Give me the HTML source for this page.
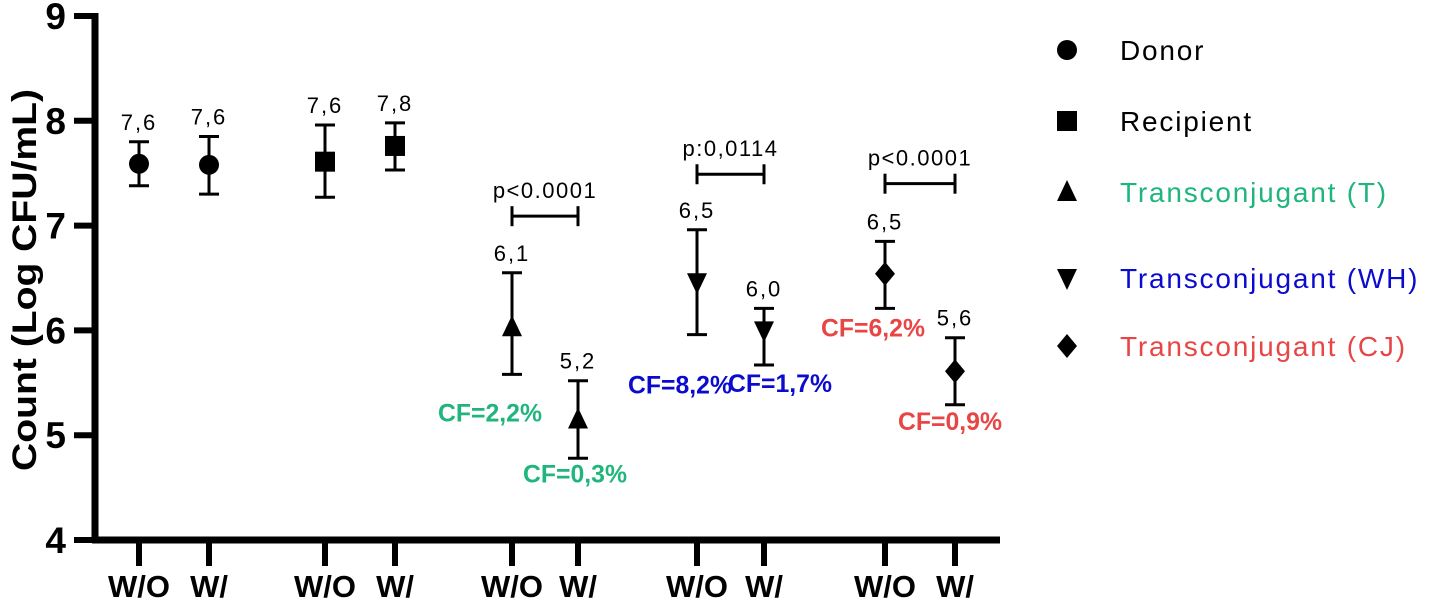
<!DOCTYPE html>
<html><head><meta charset="utf-8"><style>
body{margin:0;background:#fff;}
svg{display:block;font-family:"Liberation Sans",Arial,sans-serif;}
</style></head><body>
<svg id="chart" width="1429" height="604" viewBox="0 0 1429 604">
<g id="axes"></g>
<g id="marks"></g>
<g id="legend"></g>
</svg>
<script>
const yTicks=[4,5,6,7,8,9];
const xLabels=["W/O","W/","W/O","W/","W/O","W/","W/O","W/","W/O","W/"];
const xPos=[139,209,325,395,512,578,697,764,885,955];
const means=[7.59,7.58,7.61,7.76,6.03,5.15,6.46,6.0,6.54,5.61];
const errLo=[7.38,7.30,7.27,7.53,5.58,4.78,5.96,5.67,6.21,5.29];
const errHi=[7.80,7.85,7.96,7.98,6.55,5.52,6.96,6.21,6.85,5.93];
const valueLabels=["7,6","7,6","7,6","7,8","6,1","5,2","6,5","6,0","6,5","5,6"];
const shapes=["circle","circle","square","square","up","up","down","down","diamond","diamond"];
const cfLabels=[null,null,null,null,"CF=2,2%","CF=0,3%","CF=8,2%","CF=1,7%","CF=6,2%","CF=0,9%"];
const cfColors=[null,null,null,null,"#1fb57c","#1fb57c","#0b0bd0","#0b0bd0","#e84545","#e84545"];
const cfOffsets=[[0,0],[0,0],[0,0],[0,0],[-22,83],[-3,60],[-17,95],[16,63],[-12,64],[-5,61]];
const pLabels=["p<0.0001","p:0,0114","p<0.0001"];
const pPairs=[[4,5],[6,7],[8,9]];
const pLevels=[7.09,7.49,7.40];
const legendNames=["Donor","Recipient","Transconjugant (T)","Transconjugant (WH)","Transconjugant (CJ)"];
const legendShapes=["circle","square","up","down","diamond"];
const legendColors=["#000","#000","#1fb57c","#0b0bd0","#e84545"];
const legendY=[50,121,192,278,346];

const NS="http://www.w3.org/2000/svg";
const Y0=540,Y1=16,V0=4,V1=9;
function y(v){return Y0-(v-V0)*(Y0-Y1)/(V1-V0);}
function mk(tag,attrs,parent){const e=document.createElementNS(NS,tag);for(const k in attrs)e.setAttribute(k,attrs[k]);parent.appendChild(e);return e;}
const axes=document.getElementById('axes'),marks=document.getElementById('marks'),legend=document.getElementById('legend');

let el=mk('line',{x1:95,y1:y(9)-3,x2:95,y2:Y0+3,stroke:'#000','stroke-width':7},axes);

el=mk('line',{x1:92,y1:Y0,x2:1000,y2:Y0,stroke:'#000','stroke-width':7},axes);

yTicks.forEach(t=>{
  const l=mk('line',{x1:74,y1:y(t),x2:95,y2:y(t),stroke:'#000','stroke-width':6},axes);
  
  const tx=mk('text',{x:66,y:y(t)+13,'text-anchor':'end','font-size':37,'font-weight':'bold'},axes);
  tx.textContent=t;
  
});
el=mk('text',{transform:'translate(36,280) rotate(-90)','text-anchor':'middle','font-size':34,'font-weight':'bold',textLength:382,lengthAdjust:'spacingAndGlyphs'},axes);
el.textContent='Count (Log CFU/mL)';

xPos.forEach((x,i)=>{
  const l=mk('line',{x1:x,y1:Y0,x2:x,y2:566,stroke:'#000','stroke-width':6},axes);
  
  const t=mk('text',{x:x,y:597,'text-anchor':'middle','font-size':31,'font-weight':'bold'},axes);
  t.textContent=xLabels[i];
  
});

function shape(kind,cx,cy,s,parent,fill){
  let e;
  if(kind==='circle')e=mk('circle',{cx:cx,cy:cy,r:s,fill:fill},parent);
  else if(kind==='square')e=mk('rect',{x:cx-s,y:cy-s,width:2*s,height:2*s,fill:fill},parent);
  else if(kind==='up')e=mk('polygon',{points:`${cx},${cy-s*1.2} ${cx-s},${cy+s*0.9} ${cx+s},${cy+s*0.9}`,fill:fill},parent);
  else if(kind==='down')e=mk('polygon',{points:`${cx},${cy+s*1.2} ${cx-s},${cy-s*0.9} ${cx+s},${cy-s*0.9}`,fill:fill},parent);
  else e=mk('polygon',{points:`${cx},${cy-s*1.2} ${cx+s},${cy} ${cx},${cy+s*1.2} ${cx-s},${cy}`,fill:fill},parent);
  return e;
}

means.forEach((m,i)=>{
  const x=xPos[i];
  const g=mk('g',{},marks);
  
  
  mk('line',{x1:x,y1:y(errHi[i]),x2:x,y2:y(errLo[i]),stroke:'#000','stroke-width':3},g);
  mk('line',{x1:x-10,y1:y(errHi[i]),x2:x+10,y2:y(errHi[i]),stroke:'#000','stroke-width':3},g);
  mk('line',{x1:x-10,y1:y(errLo[i]),x2:x+10,y2:y(errLo[i]),stroke:'#000','stroke-width':3},g);
  shape(shapes[i],x,y(m),10,g,'#000');
  const vl=mk('text',{x:x,y:y(errHi[i])-12,'text-anchor':'middle','font-size':22,'letter-spacing':2},marks);
  vl.textContent=valueLabels[i];
  
  if(cfLabels[i]){
    const c=mk('text',{x:x+cfOffsets[i][0],y:y(errLo[i])+cfOffsets[i][1]-36,'text-anchor':'middle','font-size':25,'font-weight':'bold',fill:cfColors[i],textLength:104,lengthAdjust:'spacingAndGlyphs'},marks);
    c.textContent=cfLabels[i];
    
  }
});
pPairs.forEach((p,i)=>{
  const x1=xPos[p[0]],x2=xPos[p[1]],yy=y(pLevels[i]);
  const g=mk('g',{stroke:'#000','stroke-width':3},marks);
  
  mk('line',{x1:x1,y1:yy,x2:x2,y2:yy},g);
  mk('line',{x1:x1,y1:yy-10,x2:x1,y2:yy+10},g);
  mk('line',{x1:x2,y1:yy-10,x2:x2,y2:yy+10},g);
  const t=mk('text',{x:(x1+x2)/2,y:yy-18,'text-anchor':'middle','font-size':22,'letter-spacing':1.5},marks);
  t.textContent=pLabels[i];
  
});
legendNames.forEach((n,i)=>{
  const g=mk('g',{},legend);
  
  shape(legendShapes[i],1067,legendY[i],10,g,'#000');
  const t=mk('text',{x:1120,y:legendY[i]+10,'font-size':28,'letter-spacing':1.8,fill:legendColors[i]},g);
  t.textContent=n;
});
</script>
</body></html>
